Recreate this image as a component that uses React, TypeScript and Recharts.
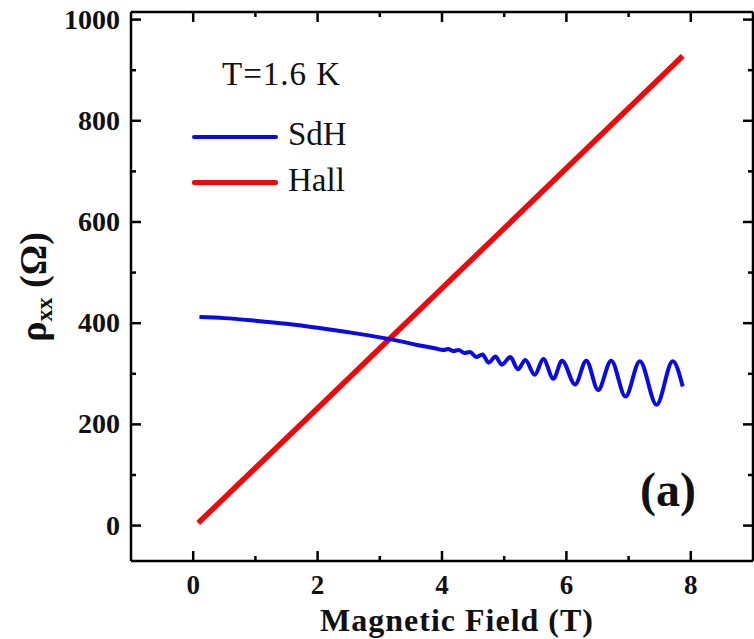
import React from 'react';
import { LineChart, Line, XAxis, YAxis } from 'recharts';

// Field values (T) and longitudinal resistance (Ω) for the SdH trace
const sdhField = [
  0.1, 0.5, 1.0, 1.5, 2.0, 2.5, 3.0, 3.3, 3.6, 3.9,
  4.02, 4.1, 4.18, 4.27, 4.36, 4.45, 4.55, 4.65, 4.75, 4.86,
  4.96, 5.1, 5.22, 5.34, 5.49, 5.63, 5.79, 5.93, 6.14, 6.32,
  6.51, 6.72, 6.95, 7.18, 7.45, 7.71, 7.87,
];
const sdhRho = [
  412, 410, 405, 399, 391, 382, 372, 365, 357, 350,
  347, 349, 345, 347, 341, 343, 333, 338, 322, 334,
  318, 333, 309, 327, 298, 329, 290, 326, 279, 326,
  268, 326, 255, 325, 239, 325, 275,
];

// Hall trace
const hallField = [0.08, 2.0, 4.0, 6.0, 7.87];
const hallRho = [5, 232, 469, 706, 928];

const xTicks = [0, 1, 2, 3, 4, 5, 6, 7, 8];
const yTicks = [0, 100, 200, 300, 400, 500, 600, 700, 800, 900, 1000];

const sdhData = sdhField.map((x, i) => ({ x, y: sdhRho[i] }));
const hallData = hallField.map((x, i) => ({ x, y: hallRho[i] }));

const FONT = '"Liberation Serif", "Times New Roman", serif';
const AXIS = { stroke: '#000', strokeWidth: 2.5 };

function BottomTick({ x, y, payload }: any) {
  const v = payload.value;
  const major = v % 2 === 0;
  return (
    <g>
      <line x1={x} x2={x} y1={y} y2={y - (major ? 10 : 5)} stroke="#000" strokeWidth={2.5} />
      {major && (
        <text x={x} y={y + 33} textAnchor="middle" fontFamily={FONT} fontWeight="bold" fontSize={27} fill="#111">
          {v}
        </text>
      )}
    </g>
  );
}

function TopTick({ x, y, payload }: any) {
  const major = payload.value % 2 === 0;
  return <line x1={x} x2={x} y1={y} y2={y + (major ? 10 : 5)} stroke="#000" strokeWidth={2.5} />;
}

function LeftTick({ x, y, payload }: any) {
  const v = payload.value;
  const major = v % 200 === 0;
  return (
    <g>
      <line x1={x} x2={x + (major ? 10 : 5)} y1={y} y2={y} stroke="#000" strokeWidth={2.5} />
      {major && (
        <text x={x - 11} y={y + 9} textAnchor="end" fontFamily={FONT} fontWeight="bold" fontSize={28} fill="#111">
          {v}
        </text>
      )}
    </g>
  );
}

function RightTick({ x, y, payload }: any) {
  const major = payload.value % 200 === 0;
  return <line x1={x} x2={x - (major ? 10 : 5)} y1={y} y2={y} stroke="#000" strokeWidth={2.5} />;
}

export default function App() {
  return (
    <div style={{ position: 'absolute', left: 0, top: 0, width: 754, height: 639, background: '#fff', fontFamily: FONT }}>
      <LineChart width={754} height={639} margin={{ top: 11, right: 0, bottom: 0, left: 0 }}>
        <XAxis
          dataKey="x"
          type="number"
          domain={[-1, 9]}
          ticks={xTicks}
          interval={0}
          allowDataOverflow
          height={78}
          axisLine={AXIS}
          tickLine={false}
          tickSize={0}
          tickMargin={0}
          tick={<BottomTick />}
        />
        <XAxis
          xAxisId="top"
          orientation="top"
          dataKey="x"
          type="number"
          domain={[-1, 9]}
          ticks={xTicks}
          interval={0}
          allowDataOverflow
          height={1}
          axisLine={AXIS}
          tickLine={false}
          tickSize={0}
          tickMargin={0}
          tick={<TopTick />}
        />
        <YAxis
          type="number"
          domain={[-70, 1015]}
          ticks={yTicks}
          interval={0}
          allowDataOverflow
          width={131}
          axisLine={AXIS}
          tickLine={false}
          tickSize={0}
          tickMargin={0}
          tick={<LeftTick />}
        />
        <YAxis
          yAxisId="right"
          orientation="right"
          type="number"
          domain={[-70, 1015]}
          ticks={yTicks}
          interval={0}
          allowDataOverflow
          width={1}
          axisLine={AXIS}
          tickLine={false}
          tickSize={0}
          tickMargin={0}
          tick={<RightTick />}
        />
        <Line data={hallData} dataKey="y" type="linear" stroke="#ee0a0a" strokeWidth={5.5} dot={false} isAnimationActive={false} />
        <Line data={sdhData} dataKey="y" type="monotone" stroke="#0a0ae6" strokeWidth={4} dot={false} isAnimationActive={false} />
        {/* invisible series so the mirrored axes get drawn */}
        <Line data={hallData} dataKey="y" xAxisId="top" yAxisId="right" stroke="none" dot={false} activeDot={false} legendType="none" isAnimationActive={false} />
      </LineChart>

      {/* legend */}
      <div style={{ position: 'absolute', left: 222, top: 58, fontSize: 33, letterSpacing: 1, color: '#111', lineHeight: 1 }}>T=1.6 K</div>
      <div style={{ position: 'absolute', left: 192, top: 135, width: 86, height: 4, background: '#0a0ae6', borderRadius: 2 }} />
      <div style={{ position: 'absolute', left: 288, top: 118, fontSize: 33, color: '#111', lineHeight: 1 }}>SdH</div>
      <div style={{ position: 'absolute', left: 192, top: 180, width: 86, height: 5, background: '#ee0a0a', borderRadius: 2 }} />
      <div style={{ position: 'absolute', left: 288, top: 164, fontSize: 33, color: '#111', lineHeight: 1 }}>Hall</div>

      {/* panel label */}
      <div style={{ position: 'absolute', left: 640, top: 466, fontSize: 48, fontWeight: 'bold', color: '#111', lineHeight: 1 }}>(a)</div>

      {/* axis titles */}
      <div style={{ position: 'absolute', left: 457, top: 620, transform: 'translate(-50%, -50%)', fontSize: 32, fontWeight: 'bold', letterSpacing: 1, whiteSpace: 'nowrap', color: '#111', lineHeight: 1 }}>
        Magnetic Field (T)
      </div>
      <div style={{ position: 'absolute', left: 35, top: 287, transform: 'translate(-50%, -50%) rotate(-90deg)', fontSize: 38, fontWeight: 'bold', whiteSpace: 'nowrap', color: '#111', lineHeight: 1 }}>
        ρ<sub style={{ fontSize: 24, verticalAlign: '-0.25em' }}>xx</sub> (Ω)
      </div>
    </div>
  );
}
